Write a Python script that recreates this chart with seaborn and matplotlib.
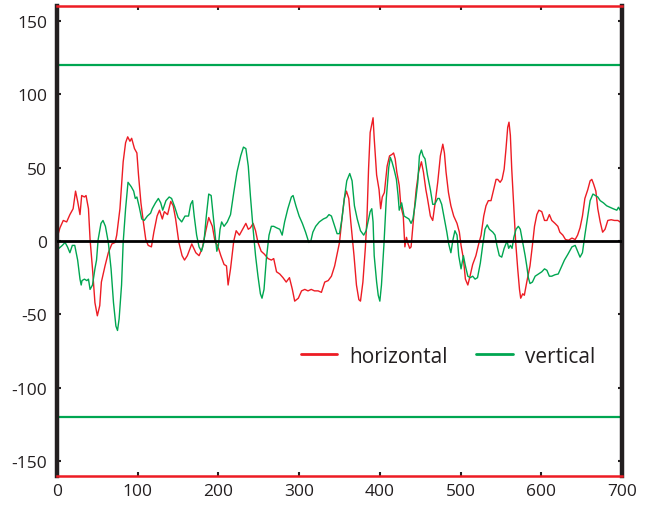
import matplotlib
matplotlib.use("Agg")
import matplotlib.pyplot as plt
import seaborn as sns

# values
red_x = [0, 3.7, 7.8, 12, 16, 20, 23, 25.6, 28.5, 30.6, 34, 36, 39, 41, 44, 47, 50, 53, 55, 59.5,
         63.6, 68, 72, 74, 78, 82, 85, 87.6, 90.4, 92.5, 96, 99, 101, 104, 107, 110, 113,
         117, 120, 124, 127, 130.5, 133, 137, 141, 144, 147, 151, 155, 158, 161.5, 167, 172, 176,
         180, 184, 188, 192.5, 196, 199, 203, 207, 210, 212, 215, 219, 222, 226, 230,
         234, 237, 239.6, 243, 246, 249, 253, 257, 261.5, 265.6, 268.5, 272, 276, 280, 284, 288,
         291.6, 294.5, 299, 303, 307, 311, 315, 319, 323.5, 327.6, 331.7, 336, 340, 344, 347.4,
         350, 353, 356, 358.6, 361.5, 364, 368, 371, 374, 376, 379, 382, 384, 386, 388, 391.6, 393,
         396, 399, 401, 403, 405.6, 409, 412, 415, 417, 419, 421, 424, 426, 429, 431, 433, 435, 437,
         438.7, 442, 445, 448, 451.5, 454, 457, 459, 462.6,
         465.5, 468, 471.7, 475, 478, 480, 482, 485, 488, 491.5, 495.6, 498.5, 500.6, 503.5, 506,
         509, 511.7, 515, 519, 522, 525.4, 528.7, 531.5, 534.4, 537.7, 541, 544, 546, 549, 551.4,
         554, 556.3, 558.4, 560, 561.7, 563.4, 566, 568.3, 570.8, 573, 574.5, 577,
         579, 582, 586, 589, 591.6, 594.5, 597, 600.6, 604, 607, 610, 613, 617, 620.5, 623, 626.7,
         630, 633.7, 638, 642, 645, 648, 651, 654, 657.6, 660.5, 662.6, 664.7, 667.6, 670, 673, 676,
         679, 682.4, 686.6, 690.7, 694.8, 697.7, 700]
red_y = [2, 9, 14, 13, 18, 22, 34, 27, 18, 31, 30, 31, 22, 1, -19, -42, -51, -44, -28, -17,
         -8, -2, -1, 4, 22, 54, 67, 71, 68, 70, 63, 60, 45, 26, 13, 1, -3,
         -4, 6, 17, 21, 15, 20, 18, 27, 24, 15, -1, -10, -13, -10, -2, -8, -10,
         -5, 6, 16, 10, -1, -3, -10, -16, -17, -30, -19, 0, 7, 4, 8,
         12, 8, 9, 12, 7, -1, -7, -9, -12, -13, -12, -21, -22.5, -25, -28, -25,
         -33, -41, -39, -34, -33, -34, -33, -34, -34, -35, -28, -27, -24, -17, -8,
         -1, 15, 29, 34, 29, 13, -10, -30, -40, -41, -28, -5, 15, 49, 74, 84, 70,
         45, 35, 22, 30, 33, 51, 58, 59, 60, 56, 47, 38, 24, 17, -4, 2.5, -2, -5,
         -4, 17, 35, 47, 54, 47, 35, 29, 17,
         14, 24, 40, 58, 66, 60, 47, 33, 24, 17, 12, 6, -3, -12, -26,
         -30, -24, -16, -10, -3, 4, 17, 24, 27.5, 27.5, 35, 42, 42, 40, 42,
         49, 63, 77.5, 81, 72, 49, 22, -1, -19, -33, -39, -36,
         -37, -28, -17, -3, 10, 18, 21, 20, 14, 14, 18, 14, 12, 10, 6, 4,
         1, 0.5, 2, 1, 4, 9, 17, 29, 35, 41, 42, 39, 34, 22, 13, 6,
         8, 14, 14.5, 14, 14, 13, 11]

green_x = [0, 2.5, 6.6, 10, 13, 16, 19, 22, 25.6, 28.5, 30, 31, 34, 37, 39, 41, 44, 47, 49, 51,
           54.5, 57, 60, 63.6, 67, 70, 73, 75, 77, 80, 82, 85, 88, 92, 95, 97, 99, 102, 105, 108, 112,
           116, 118, 122, 125.6, 128.5, 131, 135, 139, 142, 146, 150, 154.5, 158.6, 163, 165.6, 168,
           170, 173, 176, 179, 182, 185, 188, 191, 193, 196, 198, 200, 202, 204, 207, 211, 215, 219,
           223, 227.6, 231,
           234, 237, 239.6, 243, 246, 249, 252, 254, 256.5, 259.4, 262.7, 265.6, 268.5, 272, 276, 279,
           282, 286, 290.4, 292.5, 296, 300, 304, 308, 312, 314.5, 317, 320.5, 325, 330, 334, 337,
           340, 344, 347,
           350, 353, 356, 359, 362.7, 365.6, 368.5, 372, 376, 380, 383, 386, 388, 390, 391.6, 393, 396,
           398, 400, 402, 405, 408, 411, 413, 415, 418, 420.5, 422.6, 424, 427, 430, 433, 436, 438.7,
           441, 444, 447, 449, 451.5, 453.6, 456, 459, 462.6,
           465.5, 468, 471.7, 473.7, 476.6, 480, 483, 485.3, 488, 490.6, 493, 495.6, 497.7, 500.6,
           503.5, 506, 509, 512, 515, 518, 521, 524.5, 527.4, 530.3, 533, 535.7, 540, 542.7, 545, 548,
           551, 554, 557.6, 559.6, 561.7, 563.8, 566, 568.7, 571.6, 574, 577, 580,
           582, 584, 586, 589, 592.4, 596.5, 600.6, 604, 607, 610, 613, 617, 621, 624.6, 628.7, 633,
           638, 642, 645, 648, 651, 654, 657.6, 660.5, 664, 667, 670, 673, 677, 681, 685, 689, 693.6,
           695.6, 697.7, 700]
green_y = [-1, -5, -3, -1, -4, -8, -3, -3, -13, -26, -30, -27, -26, -27, -26, -33, -30, -19, -13, 1,
           12, 14, 10, -1, -19, -42, -58, -61, -53, -30, -1, 22, 40, 37, 34, 29, 30, 23, 15, 14, 17,
           19, 22, 26, 29, 26, 21, 27.5, 30, 29, 23, 16, 13, 17, 17, 25, 27.5,
           17, 4, -4, -7, -1, 17, 32, 31, 20, 4, -7, -3, 8, 13, 10, 13, 18, 33,
           47, 58, 64,
           63, 51, 31, 8, -10, -24, -36, -39, -33, -12, 4, 10, 10, 9, 8, 4,
           13, 22, 30, 31, 24, 17, 12, 6, -1, 0, 6, 10, 13, 15, 16, 18,
           17, 10, 5,
           5, 15, 29, 41, 46, 41, 24, 15, 7, 4, 7, 15, 20, 22, 13, -10, -28,
           -37, -41, -30, -3, 29, 50, 57, 54, 48, 42, 31, 21, 26, 17, 16, 15, 12,
           15, 26, 40, 58, 62, 58, 56, 45, 35,
           25, 25, 29, 29, 25, 15, 6, -2, -8, 1, 7, 4, -10, -19,
           -10, -17, -24, -25, -24, -26, -25, -15, -3, 8, 11, 8, 6, 4, -3, -10,
           -11, -5, 0, -5, -3, -5, 2.5, 8, 10, 8, -1, -10,
           -17, -25, -29, -28, -24, -22.5, -21, -19, -20, -24, -24, -23, -22.5, -18, -13, -9,
           -4, -3, -7, -11, -8, 4, 17, 27.5, 32, 31, 30, 27.5, 26, 24, 23, 22, 21,
           23, 21, 28]

x_ticks = [0, 100, 200, 300, 400, 500, 600, 700]
y_ticks = [-150, -100, -50, 0, 50, 100, 150]
red_limit = 160
green_limit = 120

RED = '#ED1C24'
GREEN = '#00A651'

sns.set_style("ticks")
plt.rcParams['font.family'] = ['Open Sans', 'DejaVu Sans']
plt.rcParams['axes.unicode_minus'] = False

fig = plt.figure(figsize=(6.49, 5.06), dpi=100)
ax = fig.add_axes([0.0878, 0.0579, 0.8706, 0.9277])

sns.lineplot(x=red_x, y=red_y, color=RED, lw=1.0, label='horizontal', ax=ax, sort=False)
sns.lineplot(x=green_x, y=green_y, color=GREEN, lw=1.0, label='vertical', ax=ax, sort=False)

ax.axhline(0, color='black', lw=2.0, zorder=3)
ax.axhline(green_limit, color=GREEN, lw=1.6)
ax.axhline(-green_limit, color=GREEN, lw=1.6)

ax.set_xlim(0, 700)
ax.set_ylim(-red_limit, red_limit)
ax.set_xticks(x_ticks)
ax.set_yticks(y_ticks)
ax.set_xlabel('')
ax.set_ylabel('')

for side in ['left', 'right']:
    ax.spines[side].set_color('#231F20')
    ax.spines[side].set_linewidth(3.2)
for side in ['top', 'bottom']:
    ax.spines[side].set_color(RED)
    ax.spines[side].set_linewidth(1.8)
    ax.spines[side].set_zorder(4)

ax.tick_params(direction='in', length=3, width=1.5, top=True, right=True,
               labelsize=12.5, colors='#231F20')
ax.tick_params(axis='y', pad=7)
ax.tick_params(axis='x', pad=5)

leg = ax.legend(loc='center', bbox_to_anchor=(0.692, 0.255), ncol=2, frameon=False,
                fontsize=15, handlelength=1.75, handletextpad=0.6, columnspacing=1.35)
for line in leg.get_lines():
    line.set_linewidth(2)
for t in leg.get_texts():
    t.set_color('#231F20')

fig.savefig('out.png', dpi=100)
